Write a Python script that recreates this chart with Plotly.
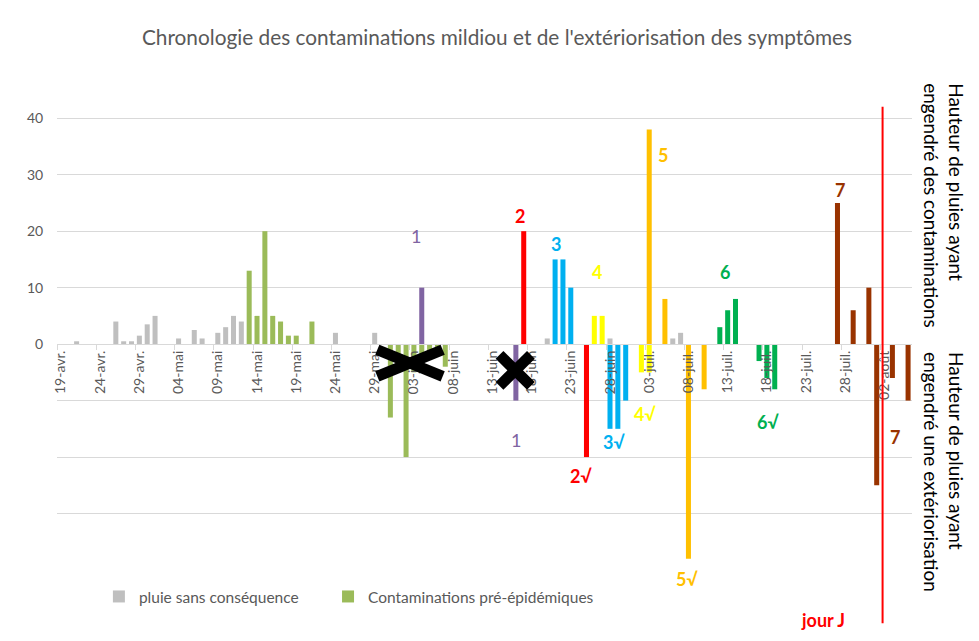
import plotly.graph_objects as go

# ---------------- data ----------------
tick_dates = ["2019-04-19", "2019-04-24", "2019-04-29", "2019-05-04", "2019-05-09",
              "2019-05-14", "2019-05-19", "2019-05-24", "2019-05-29", "2019-06-03",
              "2019-06-08", "2019-06-13", "2019-06-18", "2019-06-23", "2019-06-28",
              "2019-07-03", "2019-07-08", "2019-07-13", "2019-07-18", "2019-07-23",
              "2019-07-28", "2019-08-02"]
tick_labels = ["19-avr.", "24-avr.", "29-avr.", "04-mai", "09-mai", "14-mai", "19-mai",
               "24-mai", "29-mai", "03-juin", "08-juin", "13-juin", "18-juin", "23-juin",
               "28-juin", "03-juil.", "08-juil.", "13-juil.", "18-juil.", "23-juil.",
               "28-juil.", "02-août"]

y_ticks = [-40, -30, -20, -10, 0, 10, 20, 30, 40]
y_tick_labels = ["", "", "", "", "0", "10", "20", "30", "40"]

rain_dates = ["2019-04-21", "2019-04-26", "2019-04-27", "2019-04-28", "2019-04-29",
              "2019-04-30", "2019-05-01", "2019-05-04", "2019-05-06", "2019-05-07",
              "2019-05-09", "2019-05-10", "2019-05-11", "2019-05-12", "2019-05-24",
              "2019-05-29", "2019-06-20", "2019-06-28", "2019-07-06", "2019-07-07"]
rain_mm = [0.5, 4, 0.5, 0.5, 1.5, 3.5, 5, 1, 2.5, 1, 2, 3, 5, 4, 2, 2, 1, 1, 1, 2]

pre_dates = ["2019-05-13", "2019-05-14", "2019-05-15", "2019-05-16", "2019-05-17",
             "2019-05-18", "2019-05-19", "2019-05-21",
             "2019-05-31", "2019-06-01", "2019-06-02", "2019-06-03", "2019-06-04",
             "2019-06-05", "2019-06-06", "2019-06-07"]
pre_mm = [13, 5, 20, 5, 4, 1.5, 1.5, 4, -13, -5, -20, -5, -4, -1.5, -1.5, -4]

c1_dates = ["2019-06-04", "2019-06-16"]
c1_mm = [10, -10]
c2_dates = ["2019-06-17", "2019-06-25"]
c2_mm = [20, -20]
c3_dates = ["2019-06-21", "2019-06-22", "2019-06-23", "2019-06-28", "2019-06-29", "2019-06-30"]
c3_mm = [15, 15, 10, -15, -15, -10]
c4_dates = ["2019-06-26", "2019-06-27", "2019-07-02", "2019-07-03"]
c4_mm = [5, 5, -5, -5]
c5_dates = ["2019-07-03", "2019-07-05", "2019-07-08", "2019-07-10"]
c5_mm = [38, 8, -38, -8]
c6_dates = ["2019-07-12", "2019-07-13", "2019-07-14", "2019-07-17", "2019-07-18", "2019-07-19"]
c6_mm = [3, 6, 8, -3, -6, -8]
c7_dates = ["2019-07-27", "2019-07-29", "2019-07-31", "2019-08-01", "2019-08-03", "2019-08-05"]
c7_mm = [25, 6, 10, -25, -6, -10]

# ---------------- styles ----------------
FONT = "Lato"
GREY_TXT = "#595959"
GRID = "#D9D9D9"
DAY_MS = 86400000
BAR_W = 0.64 * DAY_MS

series = [
    ("pluie sans conséquence", rain_dates, rain_mm, "#BFBFBF", "legend"),
    ("Contaminations pré-épidémiques", pre_dates, pre_mm, "#9BBB59", "legend2"),
    ("Contamination 1", c1_dates, c1_mm, "#8064A2", None),
    ("Contamination 2", c2_dates, c2_mm, "#FF0000", None),
    ("Contamination 3", c3_dates, c3_mm, "#00B0F0", None),
    ("Contamination 4", c4_dates, c4_mm, "#FFFF00", None),
    ("Contamination 5", c5_dates, c5_mm, "#FFC000", None),
    ("Contamination 6", c6_dates, c6_mm, "#00B050", None),
    ("Contamination 7", c7_dates, c7_mm, "#993300", None),
]

fig = go.Figure()
for name, d, v, col, leg in series:
    fig.add_trace(go.Bar(x=d, y=v, name=name, marker=dict(color=col, line=dict(width=0)),
                         width=[BAR_W] * len(d), showlegend=leg is not None,
                         legend=leg if leg else "legend"))

Y_MIN, Y_MAX = -40, 45

legend_style = dict(orientation="h", xanchor="left", y=-0.056, yanchor="middle",
                    font=dict(family=FONT, size=15.5, color=GREY_TXT),
                    bgcolor="rgba(0,0,0,0)")

# the page adds an 8 px body margin, so the figure is drawn 8 px smaller
fig.update_layout(
    width=971, height=633,
    margin=dict(l=49, r=67, t=82, b=71),
    paper_bgcolor="white", plot_bgcolor="white",
    barmode="overlay",
    font=dict(family=FONT, color=GREY_TXT, size=13),
    title=dict(text="Chronologie des contaminations mildiou et de l'extériorisation des symptômes",
               x=0.5036, xanchor="center", y=0.9526, yanchor="middle",
               font=dict(family=FONT, size=20.8, color=GREY_TXT)),
    legend=dict(x=0.049, **legend_style),
    legend2=dict(x=0.317, **legend_style),
    xaxis=dict(type="date", range=["2019-04-18 12:00", "2019-08-05 12:00"],
               tickmode="array", tickvals=tick_dates, ticktext=tick_labels,
               tickangle=-90, tickfont=dict(family=FONT, size=14, color=GREY_TXT),
               ticks="", showgrid=False, zeroline=False,
               showline=True, linecolor=GRID, linewidth=1,
               anchor="free", position=(0 - Y_MIN) / (Y_MAX - Y_MIN),
               minor=dict(ticks="outside", ticklen=5, tickcolor=GRID, tickwidth=1,
                          tick0="2019-04-18 12:00", dtick=5 * DAY_MS, showgrid=False)),
    yaxis=dict(range=[Y_MIN, Y_MAX], tickmode="array", tickvals=y_ticks,
               ticktext=y_tick_labels, showgrid=True, gridcolor=GRID, gridwidth=1,
               zeroline=True, zerolinecolor=GRID, zerolinewidth=1,
               ticks="outside", ticklen=10, tickcolor="rgba(0,0,0,0)",
               tickfont=dict(family=FONT, size=14, color=GREY_TXT), showline=False),
)

# crosses over cancelled contaminations
for (xa, ya, xb, yb) in [
    ("2019-05-29 08:00", -1.0, "2019-06-06 16:00", -5.7),
    ("2019-05-29 08:00", -5.7, "2019-06-06 16:00", -1.0),
    ("2019-06-13 22:00", -1.9, "2019-06-17 22:00", -7.4),
    ("2019-06-13 22:00", -7.4, "2019-06-17 22:00", -1.9),
]:
    fig.add_shape(type="line", xref="x", yref="y", x0=xa, y0=ya, x1=xb, y1=yb,
                  line=dict(color="black", width=11))

# "jour J" vertical line
fig.add_shape(type="line", xref="x", yref="paper", x0="2019-08-01 18:00", x1="2019-08-01 18:00",
              y0=-0.111, y1=0.965, line=dict(color="#FF0000", width=2))


def y_paper(v):
    return (v - Y_MIN) / (Y_MAX - Y_MIN)


labels = [
    ("1", "2019-06-03 05:00", 19.1, "#8064A2", False),
    ("1", "2019-06-16 00:00", -17.0, "#8064A2", False),
    ("2", "2019-06-16 12:00", 22.7, "#FF0000", True),
    ("3", "2019-06-21 02:00", 17.7, "#00B0F0", True),
    ("4", "2019-06-26 07:00", 12.7, "#FFFF00", True),
    ("5", "2019-07-04 19:00", 33.5, "#FFC000", True),
    ("6", "2019-07-12 17:00", 12.7, "#00B050", True),
    ("7", "2019-07-27 07:00", 27.3, "#993300", True),
    ("2√", "2019-06-24 07:00", -23.4, "#FF0000", True),
    ("3√", "2019-06-28 12:00", -17.3, "#00B0F0", True),
    ("4√", "2019-07-02 12:00", -12.4, "#FFFF00", True),
    ("5√", "2019-07-07 19:00", -41.6, "#FFC000", True),
    ("6√", "2019-07-18 02:00", -13.8, "#00B050", True),
    ("7", "2019-08-03 07:00", -16.5, "#993300", True),
    ("jour J", "2019-07-25 05:00", -48.8, "#FF0000", True),
]
for txt, xd, yv, col, bold in labels:
    fig.add_annotation(x=xd, y=y_paper(yv), xref="x", yref="paper", showarrow=False,
                       text=f"<b>{txt}</b>" if bold else txt,
                       font=dict(family=FONT, size=18, color=col),
                       xanchor="center", yanchor="middle")

fig.add_annotation(xref="paper", yref="paper", x=1.0374, y=0.758, showarrow=False,
                   text="Hauteur de pluies ayant<br>engendré des contaminations",
                   textangle=90, align="left", xanchor="center", yanchor="middle",
                   font=dict(family=FONT, size=19, color="black"))
fig.add_annotation(xref="paper", yref="paper", x=1.0374, y=0.204, showarrow=False,
                   text="Hauteur de pluies ayant<br>engendré une extériorisation",
                   textangle=90, align="left", xanchor="center", yanchor="middle",
                   font=dict(family=FONT, size=19, color="black"))

fig.write_html("out.html")
